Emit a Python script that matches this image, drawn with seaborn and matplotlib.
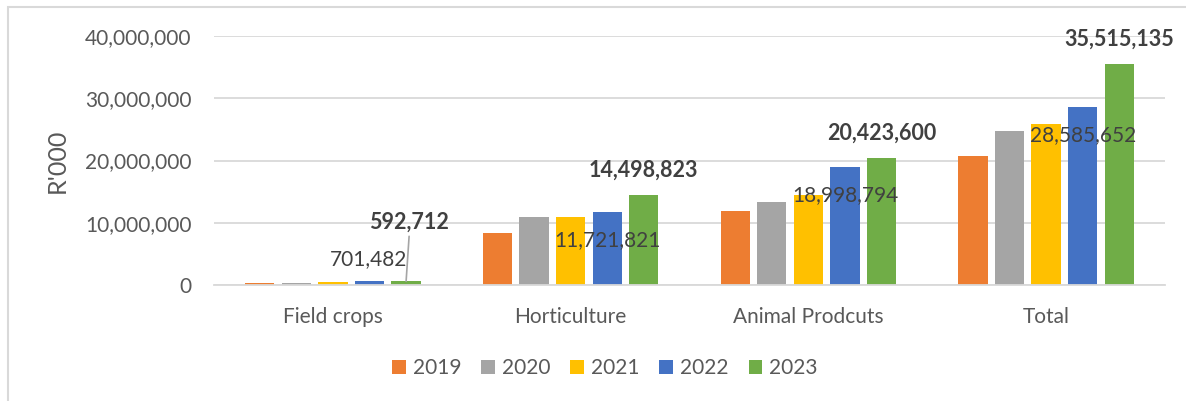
import matplotlib
matplotlib.use("Agg")
import matplotlib.pyplot as plt
import matplotlib.ticker as mticker
from matplotlib.patches import Rectangle
import pandas as pd
import seaborn as sns

categories = ["Field crops", "Horticulture", "Animal Prodcuts", "Total"]
years = ["2019", "2020", "2021", "2022", "2023"]
values_2019 = [300_000, 8_300_000, 11_930_000, 20_660_000]
values_2020 = [400_000, 10_960_000, 13_270_000, 24_670_000]
values_2021 = [550_000, 10_900_000, 14_450_000, 25_900_000]
values_2022 = [701_482, 11_721_821, 18_998_794, 28_585_652]
values_2023 = [592_712, 14_498_823, 20_423_600, 35_515_135]
colors = ["#ED7D31", "#A5A5A5", "#FFC000", "#4472C4", "#70AD47"]

series = [values_2019, values_2020, values_2021, values_2022, values_2023]
rows = []
for yr, vals in zip(years, series):
    for cat, v in zip(categories, vals):
        rows.append({"category": cat, "year": yr, "value": v})
df = pd.DataFrame(rows)

sns.set_theme(style="white")
plt.rcParams["font.family"] = ["Lato", "DejaVu Sans"]

W, H = 1186, 401
fig = plt.figure(figsize=(W / 100, H / 100), dpi=100)
ax = fig.add_axes([214 / W, 1 - 285 / H, (1165 - 214) / W, (285 - 36) / H])

sns.barplot(data=df, x="category", y="value", hue="year", order=categories,
            hue_order=years, palette=colors, width=0.77, gap=0.2,
            saturation=1, ax=ax, linewidth=0, errorbar=None)

ax.set_ylim(0, 40_000_000)
ax.set_xlim(-0.5, len(categories) - 0.5)
ax.yaxis.set_major_locator(mticker.MultipleLocator(10_000_000))
ax.yaxis.set_major_formatter(mticker.FuncFormatter(lambda v, p: f"{int(v):,}"))
ax.grid(axis="y", color="#D9D9D9", linewidth=1.3)
ax.set_axisbelow(True)
for s in ["top", "right", "left"]:
    ax.spines[s].set_visible(False)
ax.spines["bottom"].set_color("#D9D9D9")
ax.spines["bottom"].set_linewidth(1.3)
ax.tick_params(axis="both", length=0, labelsize=15, colors="#595959")
ax.tick_params(axis="y", pad=16)
ax.tick_params(axis="x", pad=16)
ax.set_xlabel("")
ax.set_ylabel("R'000", fontsize=18, color="#595959", labelpad=12)

# Data labels for 2022 (regular) and 2023 (bold)
label_color = "#404040"
cont_2022 = ax.containers[3]
cont_2023 = ax.containers[4]
off_2022 = [(-1, 22), (0, -28), (0, -28), (0, -28)]
off_2023 = [(3, 59), (0, 25), (0, 25), (0, 25)]
for i, bar in enumerate(cont_2022.patches):
    x = bar.get_x() + bar.get_width() / 2
    ax.annotate(f"{values_2022[i]:,}", xy=(x, values_2022[i]),
                xytext=off_2022[i], textcoords="offset pixels",
                ha="center", va="center", fontsize=15, color=label_color)
for i, bar in enumerate(cont_2023.patches):
    x = bar.get_x() + bar.get_width() / 2
    ax.annotate(f"{values_2023[i]:,}", xy=(x, values_2023[i]),
                xytext=off_2023[i], textcoords="offset pixels",
                ha="center", va="center", fontsize=15.5, color=label_color,
                fontweight="bold")
# leader line for the field crops 2023 label
bar = cont_2023.patches[0]
x = bar.get_x() + bar.get_width() / 2
ax.annotate("", xy=(x, values_2023[0]), xytext=(3, 45),
            textcoords="offset pixels",
            arrowprops=dict(arrowstyle="-", color="#A5A5A5", lw=1.2,
                            shrinkA=0, shrinkB=0))

leg = ax.legend(loc="center", bbox_to_anchor=(605 / W, 1 - 368 / H),
                bbox_transform=fig.transFigure, ncol=5, frameon=False,
                fontsize=15, handlelength=0.65, handleheight=0.65,
                handletextpad=0.35, columnspacing=0.95)
for t in leg.get_texts():
    t.set_color("#595959")

# chart frame
fig.patches.append(Rectangle((8 / W, -0.1), 1.2, 1 - 7 / H + 0.1,
                             transform=fig.transFigure, fill=False,
                             edgecolor="#D9D9D9", linewidth=1.5))

fig.savefig("out.png", dpi=100, facecolor="white")
